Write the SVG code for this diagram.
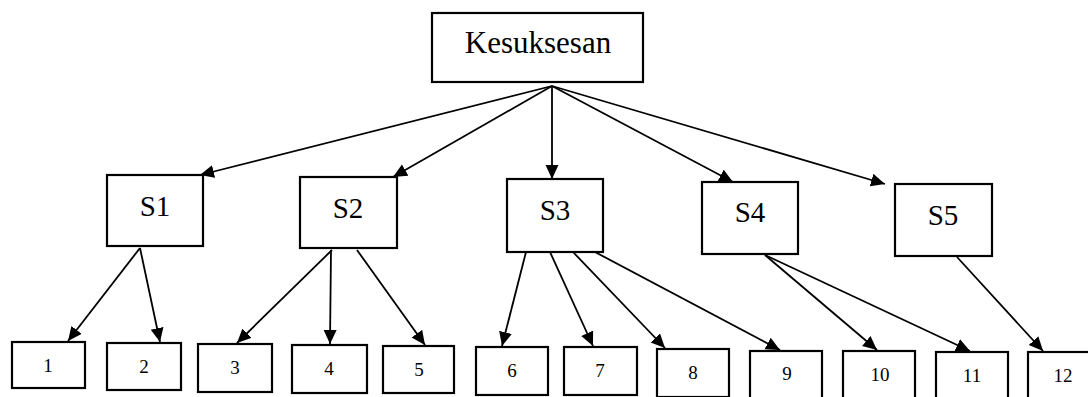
<svg xmlns="http://www.w3.org/2000/svg" width="1088" height="397" viewBox="0 0 1088 397">
  <defs>
    <style>
      .box { fill: #ffffff; stroke: #000000; stroke-width: 2.2; }
      .edge { fill: none; stroke: #000000; stroke-width: 1.8; marker-end: url(#head); }
      .lbl { font-family: "Liberation Serif", "Times New Roman", serif; fill: #000000; text-anchor: middle; }
      .big { font-size: 31px; }
      .mid { font-size: 29px; }
      .small { font-size: 19px; }
    </style>
    <marker id="head" markerUnits="userSpaceOnUse" markerWidth="16" markerHeight="14" refX="14" refY="6.5" orient="auto">
      <path d="M0,0 L14,6.5 L0,13 z" fill="#000000"/>
    </marker>
  </defs>
  <rect width="1088" height="397" fill="#ffffff"/>

  <!-- connectors -->
  <g id="connectors">
    <!-- root to level one -->
    <line class="edge" x1="552" y1="86" x2="200" y2="175"/>
    <line class="edge" x1="552" y1="86" x2="393" y2="177"/>
    <line class="edge" x1="552" y1="86" x2="552" y2="179"/>
    <line class="edge" x1="552" y1="86" x2="733" y2="182"/>
    <line class="edge" x1="552" y1="86" x2="885" y2="184"/>
    <!-- S1 -->
    <line class="edge" x1="140" y1="248" x2="68" y2="341"/>
    <line class="edge" x1="140" y1="248" x2="160" y2="342"/>
    <!-- S2 -->
    <line class="edge" x1="332" y1="250" x2="237" y2="343"/>
    <line class="edge" x1="331" y1="250" x2="330" y2="344"/>
    <line class="edge" x1="357" y1="250" x2="425" y2="345"/>
    <!-- S3 -->
    <line class="edge" x1="526" y1="252" x2="502" y2="346"/>
    <line class="edge" x1="550" y1="252" x2="593" y2="346"/>
    <line class="edge" x1="573" y1="252" x2="665" y2="348"/>
    <line class="edge" x1="595" y1="252" x2="780" y2="350"/>
    <!-- S4 -->
    <line class="edge" x1="765" y1="255" x2="877" y2="350"/>
    <line class="edge" x1="765" y1="255" x2="970" y2="351"/>
    <!-- S5 -->
    <line class="edge" x1="957" y1="257" x2="1043" y2="351"/>
  </g>

  <!-- root -->
  <g id="root">
    <rect class="box" x="432" y="13" width="211" height="69"/>
    <text class="lbl big" x="538" y="53">Kesuksesan</text>
  </g>

  <!-- level one -->
  <g id="s1">
    <rect class="box" x="107" y="175" width="96" height="71"/>
    <text class="lbl mid" x="155" y="216">S1</text>
  </g>
  <g id="s2">
    <rect class="box" x="300" y="177" width="97" height="71"/>
    <text class="lbl mid" x="348" y="218">S2</text>
  </g>
  <g id="s3">
    <rect class="box" x="507" y="179" width="96" height="73"/>
    <text class="lbl mid" x="555" y="220">S3</text>
  </g>
  <g id="s4">
    <rect class="box" x="702" y="182" width="96" height="72"/>
    <text class="lbl mid" x="750" y="222">S4</text>
  </g>
  <g id="s5">
    <rect class="box" x="895" y="184" width="97" height="72"/>
    <text class="lbl mid" x="943" y="225">S5</text>
  </g>

  <!-- level two -->
  <g id="n1"><rect class="box" x="12" y="342" width="73" height="46"/><text class="lbl small" x="48" y="372">1</text></g>
  <g id="n2"><rect class="box" x="107" y="343" width="74" height="47"/><text class="lbl small" x="144" y="373">2</text></g>
  <g id="n3"><rect class="box" x="198" y="344" width="74" height="48"/><text class="lbl small" x="235" y="374">3</text></g>
  <g id="n4"><rect class="box" x="292" y="345" width="75" height="48"/><text class="lbl small" x="329" y="375">4</text></g>
  <g id="n5"><rect class="box" x="383" y="346" width="71" height="47"/><text class="lbl small" x="419" y="376">5</text></g>
  <g id="n6"><rect class="box" x="476" y="347" width="72" height="48"/><text class="lbl small" x="512" y="377">6</text></g>
  <g id="n7"><rect class="box" x="564" y="347" width="73" height="48"/><text class="lbl small" x="600" y="377">7</text></g>
  <g id="n8"><rect class="box" x="657" y="349" width="72" height="48"/><text class="lbl small" x="693" y="379">8</text></g>
  <g id="n9"><rect class="box" x="750" y="351" width="72" height="48"/><text class="lbl small" x="787" y="380">9</text></g>
  <g id="n10"><rect class="box" x="843" y="351" width="72" height="48"/><text class="lbl small" x="880" y="381">10</text></g>
  <g id="n11"><rect class="box" x="936" y="352" width="72" height="48"/><text class="lbl small" x="972" y="382">11</text></g>
  <g id="n12"><rect class="box" x="1028" y="352" width="72" height="48"/><text class="lbl small" x="1063" y="382">12</text></g>
</svg>
